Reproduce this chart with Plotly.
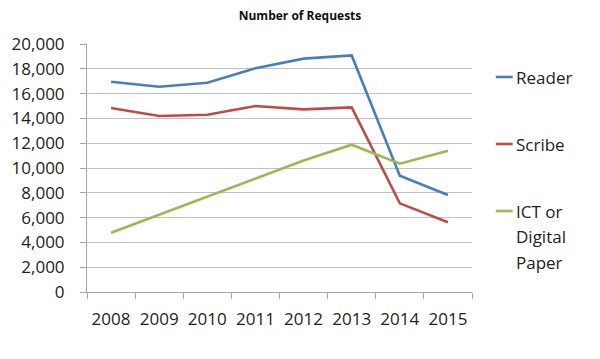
import plotly.graph_objects as go

years = ["2008", "2009", "2010", "2011", "2012", "2013", "2014", "2015"]
reader = [16950, 16550, 16880, 18040, 18820, 19080, 9380, 7820]
scribe = [14840, 14190, 14300, 15000, 14730, 14890, 7150, 5620]
ict = [4780, 6250, 7700, 9150, 10600, 11880, 10350, 11400]
series_names = ["Reader", "Scribe", "ICT or Digital Paper"]
legend_lines = [["Reader"], ["Scribe"], ["ICT or", "Digital", "Paper"]]
colors = ["#4A7EBB", "#BE4B48", "#98B954"]
y_ticks = [0, 2000, 4000, 6000, 8000, 10000, 12000, 14000, 16000, 18000, 20000]

FONT = "Open Sans"
W, H = 600, 359
L, R, T, B = 84, 472, 44, 292

fig = go.Figure()
for name, vals, col in zip(series_names, [reader, scribe, ict], colors):
    fig.add_trace(go.Scatter(x=years, y=vals, name=name, mode="lines",
                             line=dict(color=col, width=2.6), showlegend=False))

def px_x(p):
    return (p - L) / (R - L)

def px_y(p):
    return (B - p) / (B - T)

annotations = []
shapes = []
legend_y = [77, 144, 211]
for lines, col, ly in zip(legend_lines, colors, legend_y):
    shapes.append(dict(type="line", xref="paper", yref="paper",
                       x0=px_x(496), x1=px_x(513), y0=px_y(ly), y1=px_y(ly),
                       line=dict(color=col, width=2.6)))
    for i, txt in enumerate(lines):
        annotations.append(dict(text=txt, xref="paper", yref="paper",
                                x=px_x(514), y=px_y(ly + i * 25.5),
                                xanchor="left", yanchor="middle", showarrow=False,
                                font=dict(family=FONT, size=17, color="#222")))

fig.update_layout(
    width=W, height=H,
    margin=dict(l=L, r=W - R, t=T, b=H - B),
    paper_bgcolor="white", plot_bgcolor="white",
    title=dict(text="<b>Number of Requests</b>", x=0.5, xanchor="center",
               y=1 - 16 / H, yanchor="middle",
               font=dict(family=FONT, size=12, color="#111")),
    font=dict(family=FONT, color="#222"),
    annotations=annotations, shapes=shapes,
    xaxis=dict(type="category", range=[-0.5, 7.5], tickson="boundaries",
               ticks="outside", ticklen=6, tickcolor="#a6a6a6",
               showline=True, linecolor="#a6a6a6", linewidth=1,
               showgrid=False, tickangle=0,
               tickfont=dict(family=FONT, size=17, color="#222"),
               ticklabelstandoff=12),
    yaxis=dict(range=[0, 20000], tickvals=y_ticks,
               ticktext=[f"{v:,}" for v in y_ticks],
               ticks="outside", ticklen=6, tickcolor="#a6a6a6",
               showline=True, linecolor="#a6a6a6", linewidth=1,
               showgrid=True, gridcolor="#c0c0c0", gridwidth=1,
               zeroline=False,
               tickfont=dict(family=FONT, size=17, color="#222"),
               ticklabelstandoff=12),
)

fig.write_html("out.html", config={"displayModeBar": False},
               post_script="document.body.style.margin='0';")
